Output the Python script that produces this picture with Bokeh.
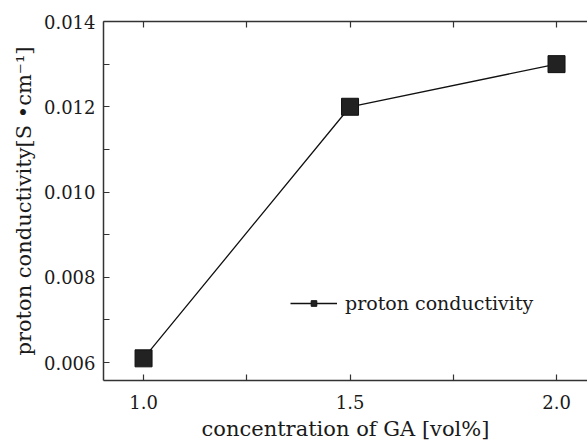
from bokeh.plotting import figure
from bokeh.models import (Range1d, FixedTicker, LinearAxis, Legend, LegendItem,
                          PrintfTickFormatter)
from bokeh.embed import file_html
from bokeh.resources import INLINE

concentration = [1.0, 1.5, 2.0]
conductivity = [0.0061, 0.0120, 0.0130]
x_ticks = [1.0, 1.5, 2.0]
x_minor = [1.25, 1.75]
y_ticks = [0.006, 0.008, 0.010, 0.012, 0.014]
y_minor = [0.007, 0.009, 0.011, 0.013]

FONT = "DejaVu Serif"
AX = "#333333"
TXT = "#1a1a1a"

p = figure(width=587, height=444, output_backend="svg", toolbar_location=None,
           x_range=Range1d(0.903, 2.075), y_range=Range1d(0.00558, 0.014),
           min_border_left=103, min_border_top=21, min_border_bottom=64,
           min_border_right=0, x_axis_location=None, y_axis_location=None)
p.outline_line_color = None
p.xgrid.visible = False
p.ygrid.visible = False
p.background_fill_color = "white"


def style(ax):
    ax.axis_line_color = AX
    ax.axis_line_width = 1.5
    ax.major_tick_in = 6
    ax.major_tick_out = 0
    ax.minor_tick_in = 6
    ax.minor_tick_out = 0
    ax.major_tick_line_color = AX
    ax.minor_tick_line_color = AX
    ax.major_tick_line_width = 1.2
    ax.minor_tick_line_width = 1.2
    ax.major_label_text_font = FONT
    ax.major_label_text_font_size = "18px"
    ax.major_label_text_color = TXT
    ax.axis_label_text_font = FONT
    ax.axis_label_text_font_size = "21px"
    ax.axis_label_text_font_style = "normal"
    ax.axis_label_text_color = TXT


xb = LinearAxis(ticker=FixedTicker(ticks=x_ticks, minor_ticks=x_minor),
                formatter=PrintfTickFormatter(format="%.1f"),
                axis_label="concentration of GA [vol%]")
style(xb)
xb.major_label_standoff = 14
xb.axis_label_standoff = 5
p.add_layout(xb, "below")

# top frame line: ticks only (all drawn as minor ticks, so no labels)
xt = LinearAxis(ticker=FixedTicker(ticks=[], minor_ticks=x_ticks + x_minor))
style(xt)
p.add_layout(xt, "above")

yl = LinearAxis(ticker=FixedTicker(ticks=y_ticks, minor_ticks=y_minor),
                formatter=PrintfTickFormatter(format="%.3f"),
                axis_label="proton conductivity[S \u2022cm\u207b\u00b9]")
style(yl)
yl.major_label_standoff = 8
yl.axis_label_standoff = 5
p.add_layout(yl, "left")

ln = p.line(concentration, conductivity, line_color="#111111", line_width=1.3)
sq = p.scatter(concentration, conductivity, marker="square", size=17,
               fill_color="#222222", line_color="#111111")

legend = Legend(items=[LegendItem(label="proton conductivity", renderers=[ln, sq])],
                location=(187, 66), border_line_color=None,
                background_fill_alpha=0, label_text_font=FONT,
                label_text_font_size="19px", label_text_color=TXT,
                glyph_width=47, glyph_height=14, label_standoff=8)
p.add_layout(legend, "center")

open("out.html", "w").write(file_html(p, INLINE))
